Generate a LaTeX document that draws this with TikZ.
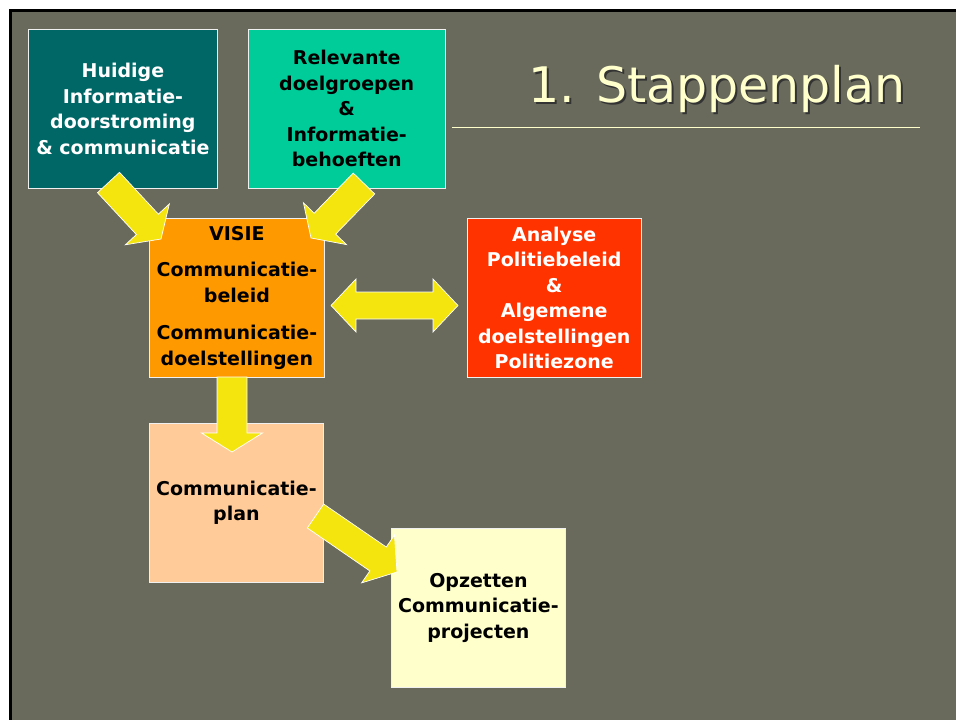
\documentclass[tikz,border=0pt]{standalone}
\usepackage{fontspec}
\setmainfont{DejaVu Sans}
\usetikzlibrary{calc,      % punten op de pijlen
                positioning}
\definecolor{slidebg}{RGB}{105,106,92}
\definecolor{boxteal}{RGB}{0,102,102}
\definecolor{boxgreen}{RGB}{0,204,153}
\definecolor{boxorange}{RGB}{255,153,0}
\definecolor{boxred}{RGB}{255,51,0}
\definecolor{boxpeach}{RGB}{255,204,153}
\definecolor{boxcream}{RGB}{255,255,204}
\definecolor{arrowyellow}{RGB}{244,229,14}
\definecolor{titlecream}{RGB}{255,255,204}

\tikzset{
  stapbox/.style={draw=white!88!gray, line width=0.8pt, inner sep=0pt,
                  minimum width=175pt, minimum height=159pt, align=center,
                  font=\fontsize{19}{25.5}\selectfont\bfseries},
  yarrow/.style={fill=arrowyellow, draw=white, line width=0.7pt, line join=miter}
}

% blokpijl: staart, punt, halve schachtbreedte, halve kopbreedte, koplengte
\newcommand{\fatarrow}[5]{%
  \coordinate (fa-h) at ($(#2)!#5!(#1)$);
  \filldraw[yarrow] ($(#1)!#3!90:(#2)$) -- ($(fa-h)!#3!90:(#2)$)
    -- ($(fa-h)!#4!90:(#2)$) -- (#2) -- ($(fa-h)!#4!-90:(#2)$)
    -- ($(fa-h)!#3!-90:(#2)$) -- ($(#1)!#3!-90:(#2)$) -- cycle;
}
% dubbele blokpijl tussen twee punten
\newcommand{\dblfatarrow}[5]{%
  \coordinate (fa-a) at ($(#1)!#5!(#2)$);
  \coordinate (fa-b) at ($(#2)!#5!(#1)$);
  \filldraw[yarrow] (#1) -- ($(fa-a)!#4!90:(#2)$) -- ($(fa-a)!#3!90:(#2)$)
    -- ($(fa-b)!#3!-90:(#1)$) -- ($(fa-b)!#4!-90:(#1)$) -- (#2)
    -- ($(fa-b)!#4!90:(#1)$) -- ($(fa-b)!#3!90:(#1)$)
    -- ($(fa-a)!#3!-90:(#2)$) -- ($(fa-a)!#4!-90:(#2)$) -- cycle;
}

\begin{document}
\begin{tikzpicture}[x=1pt,y=-1pt]
\useasboundingbox (0,0) rectangle (956,720);
\fill[white] (0,0) rectangle (956,720);
\fill[slidebg] (10,10) rectangle (957,721);
\draw[black, line width=3pt] (10.5,721) -- (10.5,10.5) -- (957,10.5);

% titel
\node[anchor=base west, black!80, font=\fontsize{49}{58}\selectfont] (title-shadow) at (527,104) {1. Stappenplan};
\node[anchor=base west, titlecream, font=\fontsize{49}{58}\selectfont] (title) at (525,102) {1. Stappenplan};
\draw[titlecream, line width=1pt] (452,127) -- (920,127);

% vakken
\node[stapbox, fill=boxteal, text=white, minimum width=189pt, anchor=north west] (huidige) at (28,29) {Huidige\\Informatie-\\doorstroming\\\& communicatie};
\node[stapbox, fill=boxgreen, minimum width=197pt, right=30pt of huidige] (doelgroepen) {Relevante\\doelgroepen\\\&\\Informatie-\\behoeften};
\node[stapbox, fill=boxorange, anchor=north west] (visie) at (149,218) {VISIE\\[11pt]Communicatie-\\beleid\\[12pt]Communicatie-\\doelstellingen};
\node[stapbox, fill=boxred, text=white, minimum width=174pt, right=142pt of visie] (analyse) {Analyse\\Politiebeleid\\\&\\Algemene\\doelstellingen\\Politiezone};
\node[stapbox, fill=boxpeach, minimum width=174pt, below=45pt of visie.south west, anchor=north west] (plan) {Communicatie-\\plan};
\node[stapbox, fill=boxcream, minimum width=174pt, anchor=north west] (projecten) at (391,528) {Opzetten\\Communicatie-\\projecten};

% pijlen
\coordinate (huidige-out) at (108.5,182.5);
\coordinate (visie-in1) at (161,239);
\coordinate (doelgroepen-out) at (364,183.5);
\coordinate (visie-in2) at (311,238);
\coordinate (visie-right) at (331,305.5);
\coordinate (analyse-left) at (458,305.5);
\coordinate (visie-out) at (232,377);
\coordinate (plan-in) at (232,452);
\coordinate (plan-out) at (315.5,516);
\coordinate (projecten-in) at (397,572);

\fatarrow{huidige-out}{visie-in1}{15pt}{30pt}{20pt}
\fatarrow{doelgroepen-out}{visie-in2}{15pt}{30pt}{20pt}
\dblfatarrow{visie-right}{analyse-left}{13.5pt}{26.5pt}{25pt}
\fatarrow{visie-out}{plan-in}{15pt}{30.5pt}{19pt}
\fatarrow{plan-out}{projecten-in}{14.5pt}{29pt}{23pt}
\end{tikzpicture}
\end{document}
